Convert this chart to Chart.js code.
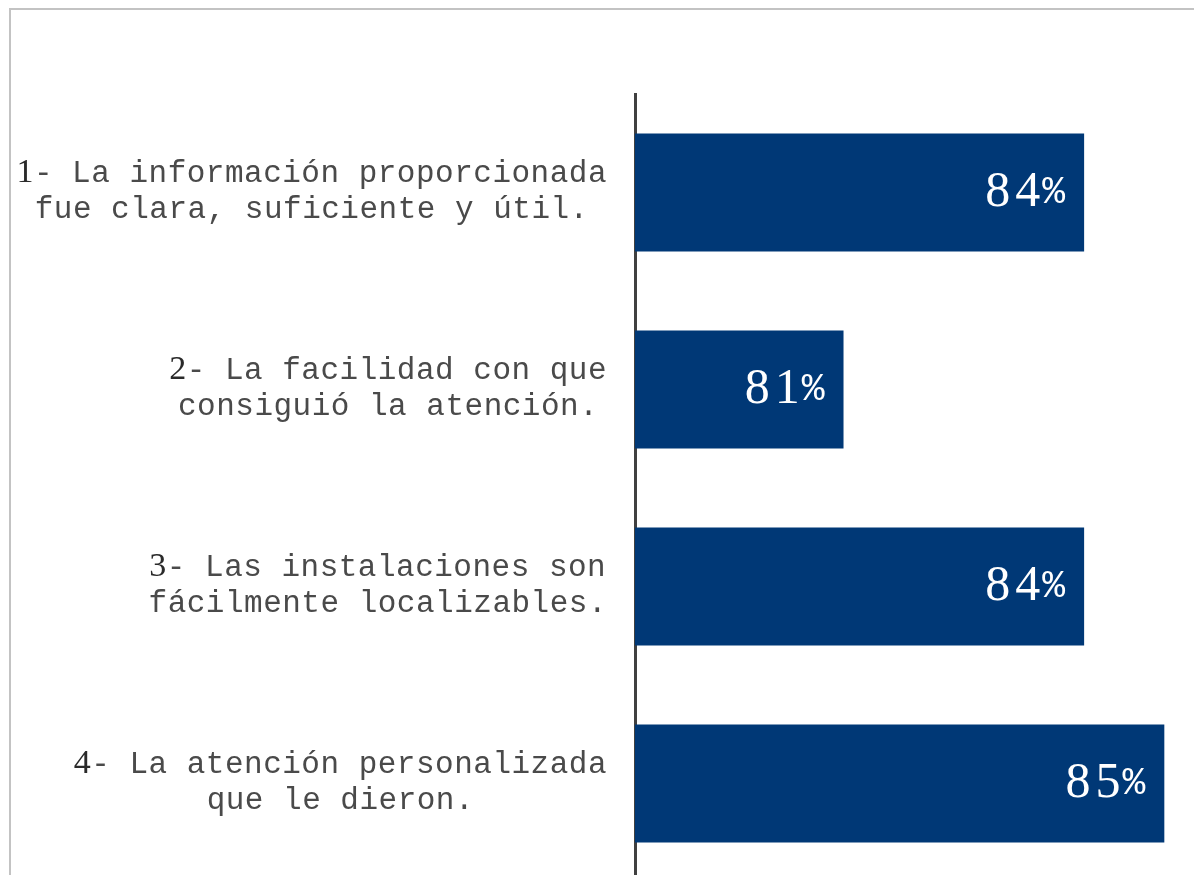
<!DOCTYPE html>
<html>
<head>
<meta charset="utf-8">
<title>Satisfacción</title>
<script src="https://cdn.jsdelivr.net/npm/chart.js@4.4.1/dist/chart.umd.min.js"></script>
<style>
  html, body { margin: 0; padding: 0; background: #fff; overflow: hidden; }
  #frame {
    position: absolute; left: 9px; top: 8px; width: 1200px; height: 900px;
    border-top: 2px solid #c3c3c3; border-left: 2px solid #c3c3c3;
  }
  #wrap { position: absolute; left: 0; top: 0; width: 1194px; height: 900px; }
</style>
</head>
<body>
<div id="frame"></div>
<div id="wrap"><canvas id="chart" width="1194" height="900"></canvas></div>
<script>
// survey items, each split over two lines
const categories = [
  ['1- La información proporcionada', 'fue clara, suficiente y útil.'],
  ['2- La facilidad con que', 'consiguió la atención.'],
  ['3- Las instalaciones son', 'fácilmente localizables.'],
  ['4- La atención personalizada', 'que le dieron.']
];
const values = [84, 81, 84, 85];

const barColor = '#003876';
const textColor = '#4a4a4a';
const monoFont = '31px "Liberation Mono", "Courier New", monospace';
const serifFont = '"Liberation Serif", "Times New Roman", serif';

// category labels: block right-aligned to the axis, lines centred inside the block,
// the leading item number set in a serif face
const itemLabels = {
  id: 'itemLabels',
  afterDraw(chart) {
    const ctx = chart.ctx;
    const y = chart.scales.y;
    const rightEdge = chart.chartArea.left - 28;
    ctx.save();
    ctx.fillStyle = textColor;
    ctx.textBaseline = 'alphabetic';
    ctx.textAlign = 'left';
    ctx.letterSpacing = '0.5px';
    categories.forEach((lines, i) => {
      const cy = y.getPixelForValue(i);
      const parts = lines.map((line, li) => {
        if (li === 0) {
          const m = line.match(/^(\d+)(.*)$/);
          ctx.font = '34px ' + serifFont;
          const wNum = ctx.measureText(m[1]).width;
          ctx.font = monoFont;
          const wRest = ctx.measureText(m[2]).width;
          return { num: m[1], rest: m[2], wNum, w: wNum + wRest };
        }
        ctx.font = monoFont;
        return { num: '', rest: line, wNum: 0, w: ctx.measureText(line).width };
      });
      const block = Math.max(...parts.map(p => p.w));
      const center = rightEdge - block / 2;
      parts.forEach((p, li) => {
        const base = cy - 11 + li * 36;
        let x = center - p.w / 2;
        if (p.num) {
          ctx.fillStyle = '#2a2a2a';
          ctx.font = '34px ' + serifFont;
          ctx.fillText(p.num, x, base);
          x += p.wNum;
          ctx.fillStyle = textColor;
        }
        ctx.font = monoFont;
        ctx.fillText(p.rest, x, base);
      });
    });
    ctx.restore();
  }
};

// percentage written inside the end of each bar
const valueLabels = {
  id: 'valueLabels',
  afterDatasetsDraw(chart) {
    const ctx = chart.ctx;
    const meta = chart.getDatasetMeta(0);
    ctx.save();
    ctx.fillStyle = '#ffffff';
    ctx.textBaseline = 'alphabetic';
    ctx.textAlign = 'right';
    meta.data.forEach((bar, i) => {
      const right = bar.x - 19;
      const base = bar.y + 13;
      ctx.letterSpacing = '0px';
      ctx.font = '38px "Liberation Mono", monospace';
      const wPct = ctx.measureText('%').width;
      ctx.fillText('%', right, base - 3);
      ctx.letterSpacing = '5px';
      ctx.font = '50px ' + serifFont;
      ctx.fillText(String(values[i]), right - wPct + 3, base);
    });
    ctx.restore();
  }
};

new Chart(document.getElementById('chart'), {
  type: 'bar',
  data: {
    labels: categories,
    datasets: [{
      data: values,
      backgroundColor: barColor,
      borderWidth: 0,
      categoryPercentage: 1,
      barPercentage: 0.6
    }]
  },
  options: {
    indexAxis: 'y',
    responsive: false,
    animation: false,
    layout: { padding: { left: 635, top: 94, right: 0, bottom: 18 } },
    plugins: { legend: { display: false }, tooltip: { enabled: false } },
    scales: {
      x: { display: false, min: 78.4, max: 85.37 },
      y: {
        z: 1,
        ticks: { display: false },
        grid: { display: false, drawTicks: false },
        border: { display: true, color: '#404040', width: 3 }
      }
    }
  },
  plugins: [itemLabels, valueLabels]
});
</script>
</body>
</html>
